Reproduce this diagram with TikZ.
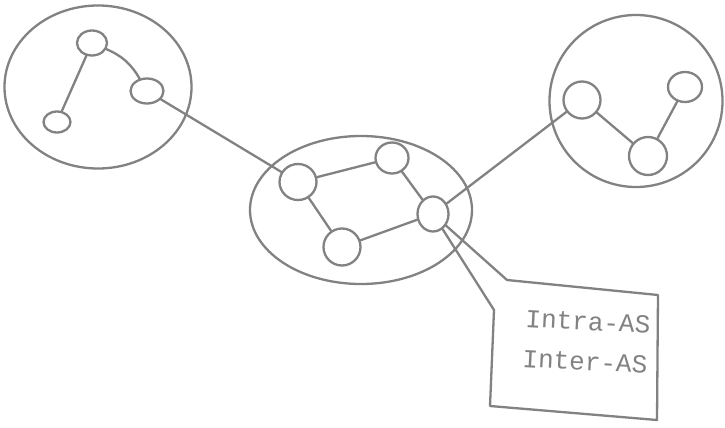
\documentclass[tikz,border=0pt]{standalone}
\usepackage{fontspec}
\setmonofont{Liberation Mono}
\usetikzlibrary{shapes.geometric}
\definecolor{pen}{HTML}{828282}
\tikzset{
  ink/.style={draw=pen, line width=2.3pt, line cap=round, line join=round},
  asbox/.style={ink, ellipse, inner sep=0pt},
  router/.style={ink, ellipse, inner sep=0pt},
  lbl/.style={text=pen, font=\ttfamily\fontsize{26}{26}\selectfont, inner sep=0pt, anchor=base west, rotate=-3}
}
\begin{document}
\begin{tikzpicture}[x=1pt,y=-1pt]
\useasboundingbox (0,0) rectangle (725,428);
\fill[white] (0,0) rectangle (725,428);
% autonomous systems
\node[asbox, minimum width=187pt, minimum height=163pt] (asA) at (98,87) {};
\node[asbox, minimum width=222pt, minimum height=148pt] (asB) at (361,210) {};
\node[asbox, minimum width=173pt, minimum height=172pt] (asC) at (636,101) {};
% routers left AS
\node[router, minimum width=30pt, minimum height=25pt] (a1) at (92,43) {};
\node[router, minimum width=27pt, minimum height=21pt] (a2) at (57,122) {};
\node[router, minimum width=33pt, minimum height=25pt] (a3) at (147,91) {};
% routers middle AS
\node[router, minimum width=37pt, minimum height=36pt] (b1) at (298,182) {};
\node[router, minimum width=33pt, minimum height=31pt] (b2) at (392,158) {};
\node[router, minimum width=37pt, minimum height=37pt] (b3) at (342,247) {};
\node[router, minimum width=31pt, minimum height=35pt] (b4) at (433,214) {};
% routers right AS
\node[router, minimum width=37pt, minimum height=37pt] (c1) at (582,100) {};
\node[router, minimum width=34pt, minimum height=30pt] (c2) at (685,87) {};
\node[router, minimum width=38pt, minimum height=38pt] (c3) at (648,156) {};
% intra-AS links
\draw[ink] (a1) -- (a2);
\draw[ink] (a1) to[bend left=18] (a3);
\draw[ink] (b1) -- (b2);
\draw[ink] (b1) -- (b3);
\draw[ink] (b3) -- (b4);
\draw[ink] (b2) -- (b4);
\draw[ink] (c1) -- (c3);
\draw[ink] (c2) -- (c3);
% inter-AS links
\draw[ink] (a3) -- (b1);
\draw[ink] (b4) -- (c1);
% callout box
\coordinate (p1) at (507,280);
\coordinate (p2) at (658,295);
\coordinate (p3) at (657,420);
\coordinate (p4) at (490,406);
\coordinate (p5) at (494,310);
\draw[ink] (b4) -- (p1) -- (p2) -- (p3) -- (p4) -- (p5) -- (b4);
\node[lbl] (t1) at (525,327) {Intra-AS};
\node[lbl] (t2) at (522,367) {Inter-AS};
\end{tikzpicture}
\end{document}
